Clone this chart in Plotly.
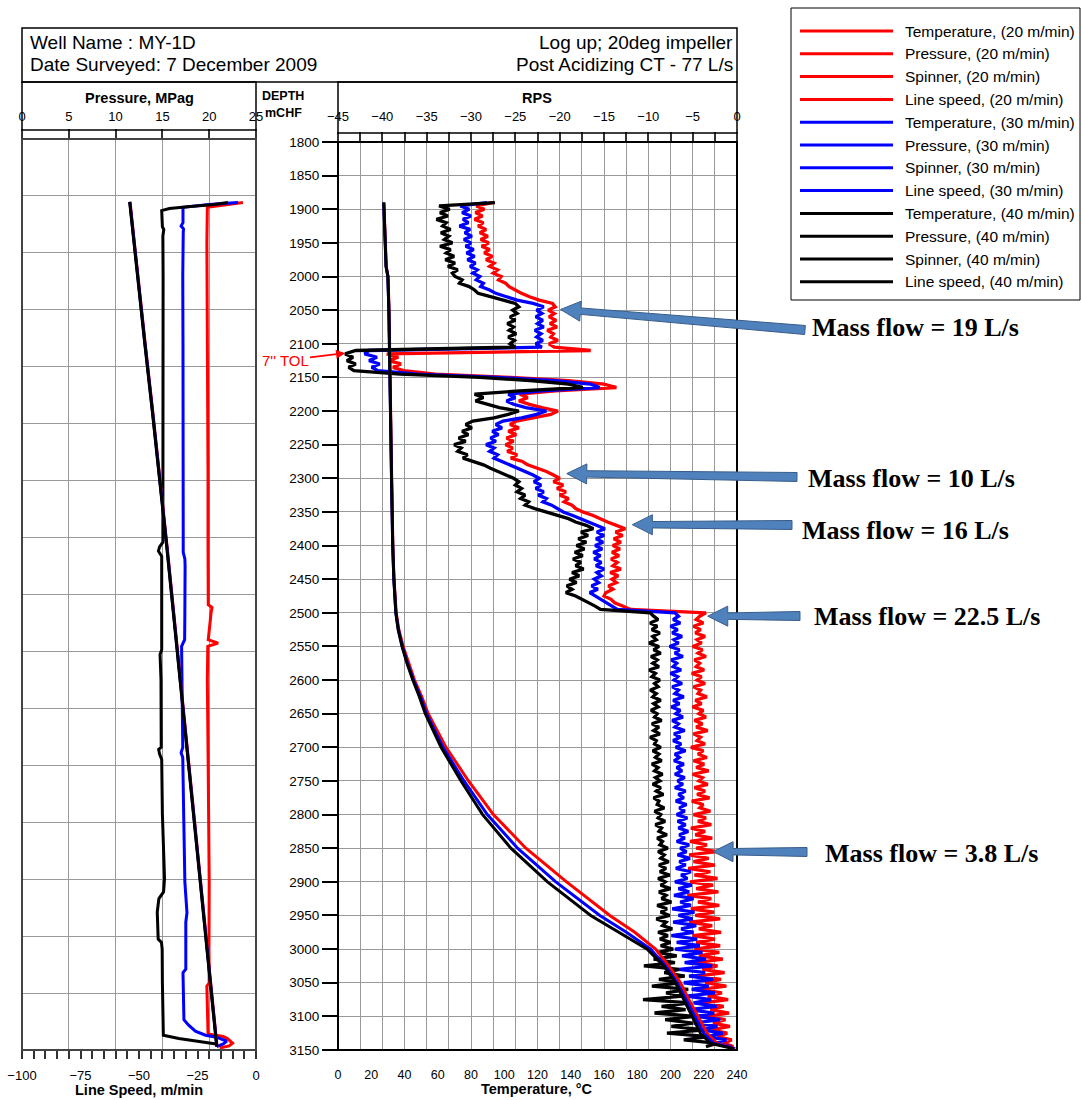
import plotly.graph_objects as go

W, H = 1082, 1100

# ---------------------------------------------------------------- data
SPEEDS = [20, 30, 40]                      # logging speeds, m/min
COLORS = ["#ff0000", "#0000ff", "#000000"]
QUANTITIES = ["Temperature", "Pressure", "Spinner", "Line speed"]

# Spinner (RPS) sampled at a 5 m step; first value is the stop at 1890 m
SPIN_DEPTH = [1890] + list(range(1895, 3150, 5))

SPIN_20 = [
    -27.6,
    -29.4, -28.5, -29.5, -28.7, -29.6, -28.6, -29.2, -28.3, -29.0, -28.1,   # 1895
    -28.9, -28.0, -28.8, -27.9, -28.5, -27.6, -28.3, -27.4, -27.9, -27.0,   # 1945
    -27.5, -26.6, -26.9, -26.1, -25.7, -25.0, -24.3, -23.4, -22.3, -20.8,   # 1995
    -20.5, -21.3, -20.6, -21.2, -20.4, -21.1, -20.3, -21.4, -20.7, -21.0,   # 2045
    -20.2, -21.2, -20.6, -16.5, -39.5, -38.2, -39.3, -37.9, -38.8, -37.6,   # 2095
    -34.0, -25.5, -19.0, -15.0, -13.6, -20.5, -24.5, -23.6, -24.6, -23.4,   # 2145
    -22.0, -20.2, -21.0, -23.0, -24.9, -25.6, -24.6, -25.8, -24.9, -26.0,   # 2195
    -25.2, -26.1, -25.3, -25.9, -24.8, -25.5, -24.2, -23.6, -22.4, -21.5,   # 2245
    -20.7, -20.0, -20.7, -19.6, -20.3, -19.3, -20.0, -19.0, -19.5, -18.6,   # 2295
    -18.2, -17.4, -16.3, -15.5, -14.6, -13.6, -12.6, -13.7, -12.9, -13.9,   # 2345
    -13.1, -14.0, -13.2, -14.1, -13.3, -14.2, -13.5, -14.0, -13.1, -14.3,   # 2395
    -13.4, -14.1, -13.6, -14.5, -14.0, -14.8, -15.0, -14.2, -13.8, -12.9,   # 2445
    -12.0, -3.5, -4.2, -4.6, -3.8, -4.9, -4.1, -4.7, -3.6, -4.5,            # 2495
    -4.0, -5.0, -3.9, -4.4, -3.5, -4.8, -4.2, -4.6, -3.7, -5.1,             # 2545
    -4.0, -4.5, -3.6, -4.9, -4.1, -4.4, -3.4, -4.7, -4.0, -5.0,             # 2595
    -3.8, -4.3, -3.5, -4.8, -3.9, -4.6, -3.3, -4.9, -4.1, -4.5,             # 2645
    -3.6, -5.2, -3.8, -4.4, -3.4, -4.9, -3.7, -4.6, -3.2, -5.0,             # 2695
    -3.9, -4.3, -3.3, -4.8, -3.6, -4.5, -3.1, -5.1, -3.8, -4.2,             # 2745
    -3.0, -4.9, -3.5, -4.4, -2.9, -5.2, -3.6, -4.7, -2.8, -5.3,             # 2795
    -3.4, -4.6, -2.3, -5.4, -3.2, -4.9, -2.5, -5.5, -3.0, -4.8,             # 2845
    -2.2, -5.3, -2.7, -4.6, -2.1, -5.6, -2.9, -4.4, -2.0, -5.2,             # 2895
    -2.6, -4.7, -1.9, -5.4, -2.8, -4.3, -1.8, -5.0, -2.5, -4.6,             # 2945
    -1.9, -4.8, -2.0, -4.3, -1.6, -4.6, -2.2, -3.9, -1.4, -4.4,             # 2995
    -1.8, -3.6, -1.2, -4.1, -1.7, -3.3, -1.0, -3.8, -1.5, -3.0,             # 3045
    -0.9, -3.4, -1.3, -2.7, -0.8, -2.9, -1.1, -2.2, -0.6, -1.5,             # 3095
    -0.4,
]

SPIN_30 = [
    -28.2,
    -31.2, -30.2, -31.0, -30.0, -30.9, -30.3, -31.3, -30.1, -30.7, -29.9,   # 1895
    -30.8, -30.0, -30.6, -29.7, -30.5, -29.6, -30.4, -29.5, -30.1, -29.3,   # 1945
    -29.8, -29.0, -29.4, -28.6, -28.9, -27.9, -27.2, -26.0, -24.8, -23.0,   # 1995
    -21.8, -22.6, -22.0, -22.7, -21.9, -22.5, -21.8, -22.8, -22.1, -22.6,   # 2045
    -21.9, -22.7, -22.0, -41.5, -42.0, -40.6, -41.5, -40.3, -41.2, -40.5,   # 2095
    -36.0, -27.0, -20.5, -16.5, -15.5, -22.0, -25.8, -25.0, -26.0, -25.2,   # 2145
    -23.8, -21.5, -22.6, -24.3, -26.4, -27.2, -26.5, -27.6, -26.9, -27.8,   # 2195
    -27.2, -28.3, -27.4, -27.9, -27.0, -27.4, -26.5, -25.6, -24.8, -23.9,   # 2245
    -23.0, -22.3, -22.9, -22.1, -22.7, -21.8, -22.4, -21.5, -21.9, -20.9,   # 2295
    -20.3, -19.6, -18.6, -17.7, -16.9, -15.9, -14.9, -15.8, -15.0, -15.9,   # 2345
    -15.1, -16.0, -15.2, -16.2, -15.4, -16.1, -15.3, -15.9, -15.0, -15.8,   # 2395
    -15.3, -16.1, -15.6, -16.4, -15.7, -16.6, -16.0, -15.3, -14.8, -14.2,   # 2445
    -13.5, -7.0, -6.6, -7.2, -6.4, -7.5, -6.7, -7.3, -6.2, -7.1,            # 2495
    -6.6, -7.6, -6.5, -7.0, -6.1, -7.4, -6.8, -7.2, -6.3, -7.5,             # 2545
    -6.7, -7.1, -6.2, -7.3, -6.6, -7.0, -6.0, -7.2, -6.5, -7.4,             # 2595
    -6.4, -6.9, -6.1, -7.3, -6.6, -7.0, -5.9, -7.1, -6.4, -7.2,             # 2645
    -6.3, -6.9, -5.8, -7.0, -6.5, -7.1, -6.0, -6.8, -6.2, -7.0,             # 2695
    -5.9, -6.7, -6.1, -7.0, -5.8, -6.6, -6.0, -6.9, -5.7, -6.5,             # 2745
    -5.9, -6.8, -5.6, -6.7, -5.8, -6.6, -5.5, -6.5, -5.9, -6.8,             # 2795
    -5.4, -6.4, -5.7, -6.7, -5.3, -6.5, -5.8, -6.9, -5.2, -6.3,             # 2845
    -5.6, -7.0, -5.1, -6.6, -5.4, -7.1, -4.9, -6.4, -5.2, -7.3,             # 2895
    -4.8, -6.6, -5.0, -7.2, -4.6, -6.3, -4.9, -7.4, -4.5, -6.8,             # 2945
    -4.2, -7.0, -3.9, -6.2, -3.5, -5.9, -2.8, -6.5, -3.6, -5.4,             # 2995
    -2.7, -6.0, -3.2, -5.1, -2.5, -5.7, -2.9, -4.9, -2.3, -5.4,             # 3045
    -2.6, -4.6, -1.9, -4.9, -2.2, -4.0, -1.6, -3.4, -1.2, -2.5,             # 3095
    -0.6,
]

SPIN_40 = [
    -27.3,
    -33.6, -32.4, -33.5, -32.6, -33.9, -32.8, -33.2, -32.3, -33.4, -32.5,   # 1895
    -33.0, -32.1, -33.5, -32.3, -32.8, -31.9, -32.9, -31.8, -32.6, -31.5,   # 1945
    -32.1, -31.8, -31.0, -31.3, -30.2, -29.6, -29.2, -27.8, -26.5, -25.0,   # 1995
    -24.6, -25.3, -24.8, -25.6, -25.0, -25.9, -25.2, -25.7, -24.9, -25.8,   # 2045
    -25.1, -25.6, -25.0, -43.0, -44.2, -43.3, -44.0, -43.0, -43.8, -43.2,   # 2095
    -38.0, -29.0, -23.0, -19.0, -17.4, -24.5, -29.6, -28.6, -29.5, -28.0,   # 2145
    -26.8, -24.6, -25.8, -27.4, -29.8, -30.6, -29.9, -31.0, -30.3, -31.4,   # 2195
    -30.6, -31.9, -31.1, -31.5, -30.4, -30.9, -29.8, -28.6, -27.8, -26.9,   # 2245
    -25.9, -25.2, -24.6, -25.0, -24.3, -24.8, -23.9, -24.4, -23.5, -23.9,   # 2295
    -22.8, -21.6, -20.2, -19.0, -18.2, -17.0, -16.2, -17.6, -16.8, -17.9,   # 2345
    -17.0, -18.1, -17.2, -18.3, -17.4, -18.5, -17.6, -18.2, -17.3, -18.6,   # 2395
    -17.8, -18.9, -18.1, -19.2, -18.6, -19.3, -18.2, -17.4, -16.6, -16.0,   # 2445
    -15.4, -9.8, -9.4, -8.9, -9.8, -9.0, -9.6, -8.7, -9.5, -9.1,            # 2495
    -9.9, -8.8, -9.4, -8.6, -9.7, -9.0, -9.5, -8.8, -9.9, -9.2,             # 2545
    -9.6, -8.7, -9.3, -8.9, -9.8, -9.1, -9.5, -8.6, -9.4, -8.9,             # 2595
    -9.7, -9.0, -9.3, -8.5, -9.6, -8.8, -9.4, -8.7, -9.8, -9.1,             # 2645
    -9.3, -8.6, -9.5, -8.8, -9.2, -8.5, -9.6, -8.9, -9.3, -8.4,             # 2695
    -9.2, -8.7, -9.5, -8.6, -9.1, -8.3, -9.4, -8.8, -9.0, -8.2,             # 2745
    -9.3, -8.6, -8.9, -8.1, -9.2, -8.5, -8.8, -7.9, -9.0, -8.4,             # 2795
    -8.7, -7.8, -8.9, -8.2, -8.6, -7.7, -8.8, -8.0, -8.7, -7.6,             # 2845
    -8.9, -8.1, -8.6, -7.5, -8.8, -8.0, -8.5, -7.4, -9.0, -7.9,             # 2895
    -8.6, -7.6, -9.1, -8.0, -8.4, -7.3, -8.9, -7.8, -8.7, -7.5,             # 2945
    -8.6, -7.2, -8.9, -6.8, -9.4, -7.0, -10.5, -6.5, -8.2, -5.9,            # 2995
    -8.8, -6.4, -9.6, -5.5, -8.0, -6.1, -10.6, -5.2, -8.5, -5.8,            # 3045
    -9.3, -4.8, -8.1, -5.0, -7.4, -3.6, -7.9, -3.2, -6.0, -2.2,             # 3095
    -3.5,
]

# Temperature (degC) vs depth (m)
TEMP_DEPTH = [1890, 1900, 1950, 1985, 2000, 2050, 2100, 2200, 2300, 2400, 2450,
              2500, 2525, 2550, 2575, 2600, 2625, 2650, 2700, 2750, 2800, 2850,
              2900, 2950, 2975, 3000, 3025, 3050, 3075, 3100, 3125, 3140, 3148]
TEMP_20 = [27.6, 27.8, 28.5, 29.0, 30.1, 30.7, 31.1, 31.7, 32.3, 33.0, 33.7,
           35.0, 36.6, 39.2, 42.4, 46.0, 50.4, 54.3, 65.0, 78.5, 93.5, 113.0,
           137.5, 163.5, 178.5, 191.0, 199.0, 206.0, 211.0, 216.5, 222.0, 228.0, 239.0]
TEMP_30 = [27.5, 27.7, 28.4, 28.9, 30.0, 30.6, 31.0, 31.6, 32.2, 32.9, 33.6,
           34.8, 36.3, 38.7, 41.8, 45.4, 49.6, 53.2, 63.2, 75.8, 89.8, 108.0,
           131.0, 157.5, 173.5, 188.0, 197.0, 204.0, 209.5, 215.0, 220.0, 226.0, 238.5]
TEMP_40 = [27.5, 27.7, 28.4, 28.9, 30.0, 30.6, 31.0, 31.6, 32.2, 32.9, 33.6,
           34.8, 36.2, 38.5, 41.5, 45.0, 49.0, 52.5, 62.0, 74.0, 87.0, 104.0,
           126.0, 152.0, 169.0, 186.0, 196.0, 203.0, 208.0, 213.0, 218.0, 224.0, 238.0]

# Pressure (MPag) vs depth (m)
PRES_DEPTH = [1889, 2000, 2100, 2200, 2300, 2400, 2500, 2600, 2700, 2800, 2900, 3000, 3100, 3145]
PRES_20 = [11.54, 12.37, 13.16, 13.96, 14.76, 15.49, 16.21, 16.92, 17.64, 18.34, 19.04, 19.74, 20.49, 20.84]
PRES_30 = [11.52, 12.35, 13.14, 13.94, 14.74, 15.47, 16.19, 16.90, 17.62, 18.32, 19.02, 19.72, 20.47, 20.82]
PRES_40 = [11.50, 12.33, 13.12, 13.92, 14.72, 15.45, 16.17, 16.88, 17.60, 18.30, 19.00, 19.70, 20.45, 20.80]

# Line speed (m/min, negative = logging up) vs depth (m)
LS20_DEPTH = [1890, 1893, 1897, 1950, 2000, 2100, 2200, 2300, 2400, 2488, 2492, 2500,
              2540, 2545, 2550, 2600, 2700, 2800, 2900, 3000, 3050, 3055, 3120, 3126,
              3130, 3133, 3140, 3144, 3147]
LS20 = [-5.6, -12.0, -20.8, -21.0, -20.9, -20.6, -20.6, -20.5, -20.5, -20.4, -18.8, -19.2,
        -20.4, -16.2, -20.6, -20.8, -20.5, -20.2, -20.0, -20.1, -20.0, -21.0, -20.8, -20.5,
        -14.0, -12.2, -10.0, -11.5, -15.5]
LS30_DEPTH = [1890, 1893, 1897, 1920, 1925, 1929, 1935, 2000, 2100, 2200, 2300, 2410,
              2420, 2430, 2500, 2540, 2550, 2600, 2700, 2708, 2715, 2800, 2900, 2946,
              2960, 3030, 3035, 3105, 3113, 3122, 3128, 3131, 3137, 3141, 3145]
LS30 = [-7.7, -20.0, -31.2, -31.2, -32.0, -31.0, -31.1, -31.3, -31.2, -31.1, -31.2, -31.1,
        -30.4, -30.3, -30.4, -30.5, -31.8, -31.6, -31.3, -32.0, -31.3, -30.9, -30.4, -29.5,
        -30.0, -30.0, -31.2, -30.8, -28.8, -25.9, -21.6, -16.8, -12.5, -14.0, -16.8]
LS40_DEPTH = [1890, 1893, 1896, 1899, 1902, 1920, 1926, 1930, 1940, 2000, 2100, 2200,
              2300, 2395, 2402, 2408, 2416, 2500, 2555, 2562, 2600, 2700, 2703, 2710,
              2718, 2800, 2895, 2915, 2925, 2945, 2960, 2985, 2990, 3000, 3050, 3100,
              3128, 3133, 3137, 3141]
LS40 = [-12.0, -18.0, -28.0, -37.0, -40.3, -40.2, -40.0, -39.4, -39.8, -39.7, -39.8, -39.6,
        -40.0, -39.8, -41.2, -41.7, -40.3, -40.4, -40.3, -41.0, -40.6, -40.5, -41.6, -41.2,
        -40.3, -40.0, -39.1, -39.5, -41.5, -42.2, -42.0, -41.8, -40.4, -40.1, -40.0, -39.8,
        -39.6, -33.0, -25.0, -17.0]

# Flow call-outs: (text, arrow tip as (RPS, depth))
FLOW_LABELS = ["Mass flow = 19 L/s", "Mass flow = 10 L/s", "Mass flow = 16 L/s",
               "Mass flow = 22.5 L/s", "Mass flow = 3.8 L/s"]
FLOW_TIPS = [(-19.9, 2049), (-19.2, 2293), (-11.8, 2369), (-3.3, 2505), (-2.7, 2855)]

TOL_DEPTH = 2114          # 7" liner top
# ---------------------------------------------------------------- layout geometry (px)
LEFT_X0, LEFT_X1, LEFT_Y0 = 22, 256, 139
MID_X0, MID_X1, MID_Y0 = 338, 737, 142
PLOT_Y1 = 1050
DEPTH_MIN, DEPTH_MAX = 1800, 3150
RPS_MIN, RPS_MAX = -45, 0

FONT = "Arial, 'Liberation Sans', sans-serif"
SERIF = "'Times New Roman', 'Liberation Serif', serif"


def px(x):
    return x / W


def py(y):
    return 1 - y / H


def mid_xy(rps, depth):
    """Map (RPS, depth) on the spinner axes to pixel position."""
    x = MID_X0 + (rps - RPS_MIN) / (RPS_MAX - RPS_MIN) * (MID_X1 - MID_X0)
    y = MID_Y0 + (depth - DEPTH_MIN) / (DEPTH_MAX - DEPTH_MIN) * (PLOT_Y1 - MID_Y0)
    return x, y


fig = go.Figure()

# left track: line speed (bottom axis) and pressure (top axis)
for d, v, c in zip([LS20_DEPTH, LS30_DEPTH, LS40_DEPTH], [LS20, LS30, LS40], COLORS):
    fig.add_trace(go.Scatter(x=v, y=d, mode="lines", line=dict(color=c, width=3),
                             xaxis="x", yaxis="y", hoverinfo="skip"))
for v, c in zip([PRES_20, PRES_30, PRES_40], COLORS):
    fig.add_trace(go.Scatter(x=v, y=PRES_DEPTH, mode="lines", line=dict(color=c, width=3),
                             xaxis="x2", yaxis="y", hoverinfo="skip"))

# main track: spinner (top axis) and temperature (bottom axis)
for v, c in zip([SPIN_20, SPIN_30, SPIN_40], COLORS):
    fig.add_trace(go.Scatter(x=v, y=SPIN_DEPTH, mode="lines", line=dict(color=c, width=3.3),
                             xaxis="x3", yaxis="y2", hoverinfo="skip"))
for v, c in zip([TEMP_20, TEMP_30, TEMP_40], COLORS):
    fig.add_trace(go.Scatter(x=v, y=TEMP_DEPTH, mode="lines", line=dict(color=c, width=3),
                             xaxis="x4", yaxis="y2", hoverinfo="skip"))

GRID = "#999999"
left_top_depth = DEPTH_MIN - (MID_Y0 - LEFT_Y0) * (DEPTH_MAX - DEPTH_MIN) / (PLOT_Y1 - MID_Y0)
left_grid_step = (DEPTH_MAX - left_top_depth) / 16
left_grid = [left_top_depth + k * left_grid_step for k in range(1, 16)]

tick_font = dict(family=FONT, size=13, color="black")

fig.update_layout(
    width=W, height=H, margin=dict(l=0, r=0, t=0, b=0, pad=0), autosize=False,
    paper_bgcolor="white", plot_bgcolor="white", showlegend=False,
    font=dict(family=FONT, size=13, color="black"),
    xaxis=dict(domain=[px(LEFT_X0), px(LEFT_X1)], range=[-100, 0], anchor="y", side="bottom",
               tick0=-100, dtick=25, ticks="outside", ticklen=8, tickwidth=1.5, tickcolor="#333",
               minor=dict(dtick=5, ticks="outside", ticklen=8, tickwidth=1.5, tickcolor="#333",
                          showgrid=False),
               showgrid=False, zeroline=False, showline=False, tickfont=tick_font,
               ticklabelstandoff=5, automargin=False),
    xaxis2=dict(overlaying="x", anchor="y", side="top", range=[0, 25], tick0=0, dtick=5,
                ticks="outside", ticklen=9, tickwidth=1.5, tickcolor="#333",
                showgrid=True, gridcolor=GRID, gridwidth=1, zeroline=False, showline=False,
                tickfont=tick_font, ticklabelstandoff=3, automargin=False),
    yaxis=dict(domain=[py(PLOT_Y1), py(LEFT_Y0)], range=[DEPTH_MAX, left_top_depth], anchor="x",
               tickmode="array", tickvals=left_grid, showticklabels=False, ticks="",
               showgrid=True, gridcolor=GRID, gridwidth=1, zeroline=False, showline=False,
               automargin=False),
    xaxis3=dict(domain=[px(MID_X0), px(MID_X1)], range=[RPS_MIN, RPS_MAX], anchor="y2",
                side="top", tick0=-45, dtick=5, ticks="outside", ticklen=9, tickwidth=1.5,
                tickcolor="#333",
                minor=dict(dtick=2.5, ticks="outside", ticklen=9, tickwidth=1.5, tickcolor="#333",
                           showgrid=True, gridcolor=GRID, gridwidth=1),
                showgrid=True, gridcolor=GRID, gridwidth=1, zeroline=False, showline=False,
                tickfont=tick_font, ticklabelstandoff=6, automargin=False),
    xaxis4=dict(overlaying="x3", anchor="y2", side="bottom", range=[0, 240], tick0=0, dtick=20,
                ticks="", showgrid=False, zeroline=False, showline=False,
                tickfont=dict(family=FONT, size=12.5, color="black"),
                ticklabelstandoff=15, automargin=False),
    yaxis2=dict(domain=[py(PLOT_Y1), py(MID_Y0)], range=[DEPTH_MAX, DEPTH_MIN], anchor="x3",
                tick0=1800, dtick=50, ticks="outside", ticklen=15, tickwidth=1.5, tickcolor="black",
                showgrid=True, gridcolor=GRID, gridwidth=1, zeroline=False, showline=False,
                tickfont=dict(family=FONT, size=13.5, color="black"), automargin=False),
)

shapes = []


def rect(x0, y0, x1, y1, color="black", width=1.5):
    shapes.append(dict(type="rect", xref="paper", yref="paper", x0=px(x0), x1=px(x1),
                       y0=py(y1), y1=py(y0), line=dict(color=color, width=width),
                       fillcolor="rgba(0,0,0,0)", layer="above"))


rect(22, 28, 737, 82)                                  # header
rect(LEFT_X0, 82, LEFT_X1, 130)                        # pressure scale box
rect(MID_X0, 82, MID_X1, 133)                          # RPS scale box
rect(LEFT_X0, LEFT_Y0, LEFT_X1, PLOT_Y1, "#444", 2)    # left track frame
rect(MID_X0, MID_Y0, MID_X1, PLOT_Y1, "black", 2)      # main track frame
rect(791, 8, 1080, 300, "black", 1)                    # legend frame


def block_arrow(tip, tail, head_len=20, head_half=10, shaft_tip=3.2, shaft_tail=4.5):
    (tx, ty), (sx, sy) = tip, tail
    dx, dy = sx - tx, sy - ty
    n = (dx * dx + dy * dy) ** 0.5
    ux, uy = dx / n, dy / n
    nx, ny = -uy, ux
    bx, by = tx + ux * head_len, ty + uy * head_len
    pts = [(tx, ty),
           (bx + nx * head_half, by + ny * head_half),
           (bx + nx * shaft_tip, by + ny * shaft_tip),
           (sx + nx * shaft_tail, sy + ny * shaft_tail),
           (sx - nx * shaft_tail, sy - ny * shaft_tail),
           (bx - nx * shaft_tip, by - ny * shaft_tip),
           (bx - nx * head_half, by - ny * head_half)]
    return "M " + " L ".join(f"{px(x):.5f},{py(y):.5f}" for x, y in pts) + " Z"


# flow call-outs: arrow tail and label anchor in px
FLOW_TAILS = [(805, 330), (797, 477), (792, 525), (800, 616), (807, 852)]
FLOW_TEXT = [(810, 327), (806, 478), (800, 530), (812, 616), (823, 853)]

annotations = []
for label, tip, tail, (tx, ty) in zip(FLOW_LABELS, FLOW_TIPS, FLOW_TAILS, FLOW_TEXT):
    shapes.append(dict(type="path", xref="paper", yref="paper",
                       path=block_arrow(mid_xy(*tip), tail),
                       fillcolor="#4F81BD", line=dict(color="#385D8A", width=1), layer="above"))
    annotations.append(dict(x=px(tx), y=py(ty), xref="paper", yref="paper", text=f"<b>{label}</b>",
                            showarrow=False, xanchor="left", yanchor="middle",
                            font=dict(family=SERIF, size=26, color="black")))

# legend drawn by hand so the line samples are long like the log header
row = 0
for s, c in zip(SPEEDS, COLORS):
    for q in QUANTITIES:
        y = 31 + row * 22.8
        shapes.append(dict(type="line", xref="paper", yref="paper", x0=px(800), x1=px(893),
                           y0=py(y), y1=py(y), line=dict(color=c, width=3)))
        annotations.append(dict(x=px(903), y=py(y), xref="paper", yref="paper",
                                text=f"{q}, ({s} m/min)", showarrow=False, xanchor="left",
                                yanchor="middle", font=dict(family=FONT, size=15.5, color="black")))
        row += 1

# header text
for text, x, y, anchor in [("Well Name : MY-1D", 28, 43, "left"),
                           ("Date Surveyed: 7 December 2009", 28, 65, "left"),
                           ("Log up; 20deg impeller", 735, 43, "right"),
                           ("Post Acidizing CT - 77 L/s", 735, 65, "right")]:
    annotations.append(dict(x=px(x), y=py(y), xref="paper", yref="paper", text=text,
                            showarrow=False, xanchor=anchor, yanchor="middle",
                            font=dict(family=FONT, size=19, color="black")))

# track titles
for text, x, y, size in [("<b>Pressure, MPag</b>", 139, 98, 14.5),
                         ("<b>RPS</b>", 537, 98, 14.5),
                         ("<b>DEPTH</b>", 283, 96, 12.5),
                         ("<b>mCHF</b>", 283, 113, 12.5),
                         ("<b>Line Speed, m/min</b>", 139, 1090, 14.5),
                         ("<b>Temperature, °C</b>", 537, 1089, 14.5)]:
    annotations.append(dict(x=px(x), y=py(y), xref="paper", yref="paper", text=text,
                            showarrow=False, xanchor="center", yanchor="middle",
                            font=dict(family=FONT, size=size, color="black")))

# liner-top marker
annotations.append(dict(x=-44.2, y=TOL_DEPTH, xref="x3", yref="y2", text="7'' TOL",
                        showarrow=True, arrowhead=2, arrowsize=1, arrowwidth=1.8,
                        arrowcolor="#ff0000", ax=-60, ay=7, axref="pixel", ayref="pixel",
                        font=dict(family=FONT, size=15, color="#ff0000")))

fig.update_layout(shapes=shapes, annotations=annotations)
fig.write_html("out.html", config={"displayModeBar": False})
